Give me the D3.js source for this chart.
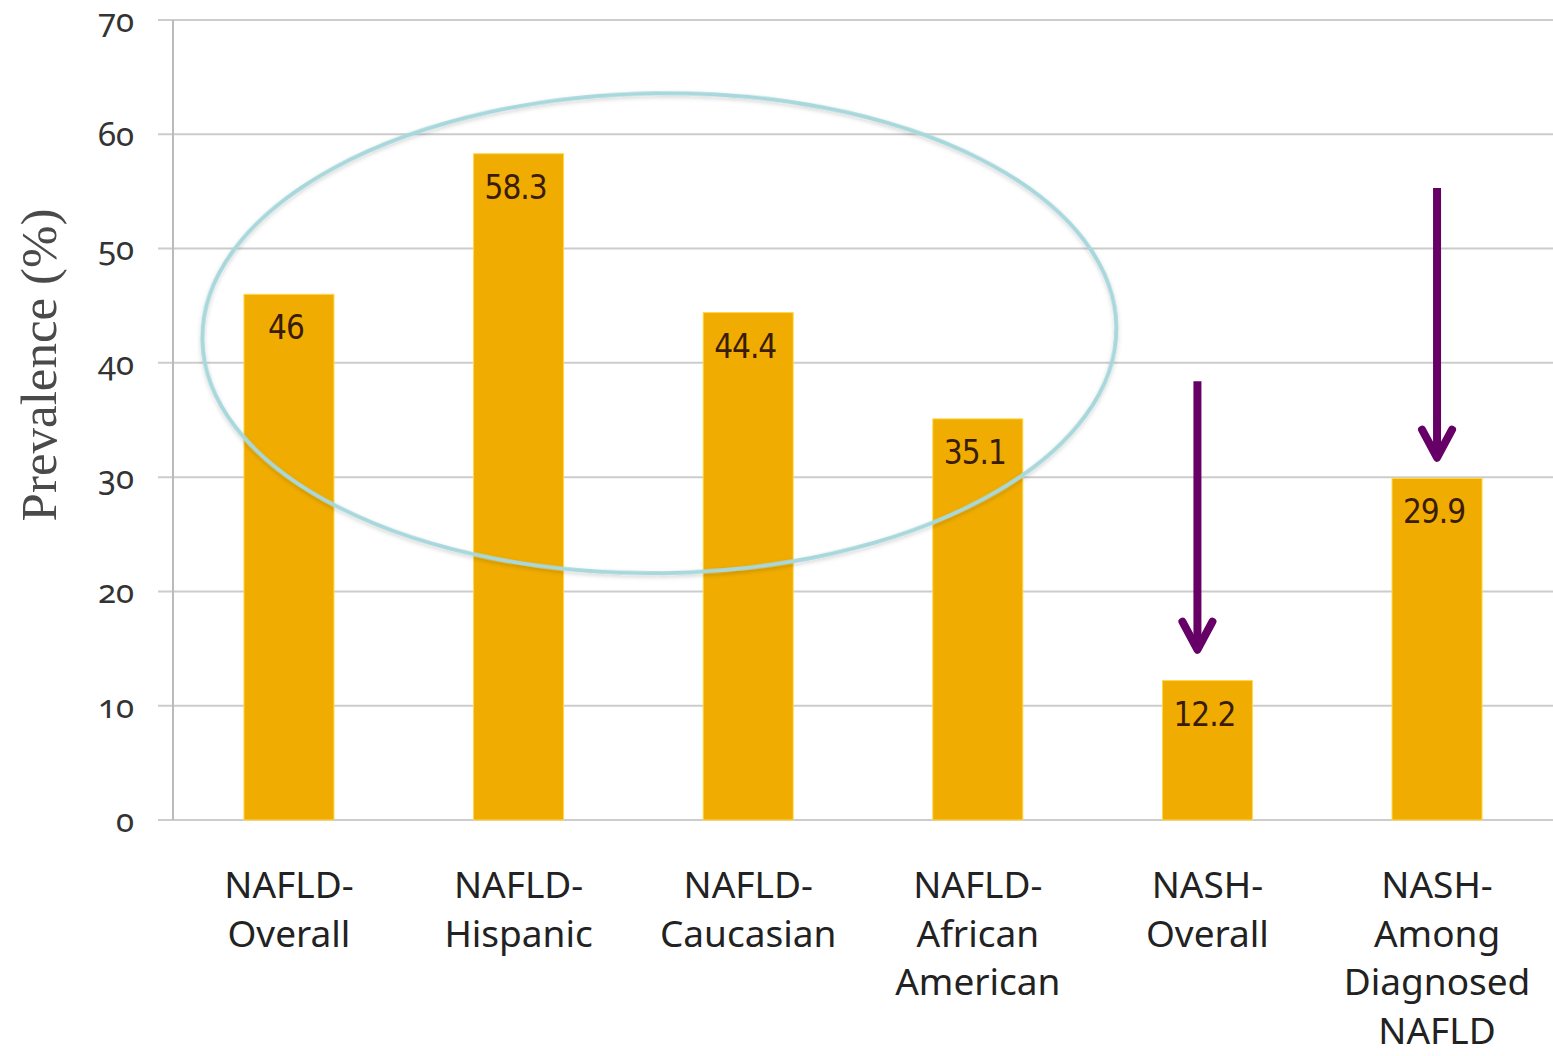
<!DOCTYPE html>
<html>
<head>
<meta charset="utf-8">
<script src="https://cdn.jsdelivr.net/npm/d3@7"></script>
<style>
  html, body { margin: 0; padding: 0; background: #ffffff; }
  svg { display: block; }
</style>
</head>
<body>
<script>
// Prevalence of NAFLD / NASH by group
const categories = [
  ["NAFLD-", "Overall"],
  ["NAFLD-", "Hispanic"],
  ["NAFLD-", "Caucasian"],
  ["NAFLD-", "African", "American"],
  ["NASH-", "Overall"],
  ["NASH-", "Among", "Diagnosed", "NAFLD"]
];
const values = [46, 58.3, 44.4, 35.1, 12.2, 29.9];
const valueLabels = ["46", "58.3", "44.4", "35.1", "12.2", "29.9"];
const yTicks = [0, 10, 20, 30, 40, 50, 60, 70];
const yTitle = "Prevalence (%)";

// Arrows pointing down at the NASH bars: [category index, start value, tip value]
const arrows = [
  [4, 38.4, 14.9],
  [5, 55.3, 31.7]
];
// horizontal nudge of each arrow from its bar centre, px
const arrowShift = [-10, 0];

const W = 1553, H = 1056;
const svg = d3.select("body").append("svg").attr("width", W).attr("height", H);

const defs = svg.append("defs");
const sh = defs.append("filter").attr("id", "soft").attr("x", "-10%").attr("y", "-10%").attr("width", "120%").attr("height", "120%");
sh.append("feDropShadow").attr("dx", 0).attr("dy", 2).attr("stdDeviation", 2)
  .attr("flood-color", "#000").attr("flood-opacity", 0.18);

const ids = categories.map((c, i) => i);
const x = d3.scaleBand().domain(ids).range([173, 1553]).paddingInner(0.608).paddingOuter(0.309);
const y = d3.scaleLinear().domain([0, 70]).range([820, 20]);

// gridlines + tick marks
svg.append("g").selectAll("line").data(yTicks).join("line")
  .attr("x1", 158).attr("x2", W)
  .attr("y1", d => y(d)).attr("y2", d => y(d))
  .attr("stroke", "#cccccc").attr("stroke-width", 2);

// y axis line
svg.append("line").attr("x1", 173).attr("x2", 173).attr("y1", y(70)).attr("y2", y(0))
  .attr("stroke", "#bbbbbb").attr("stroke-width", 2);

// y tick labels
svg.append("g").selectAll("text").data(yTicks).join("text")
  .attr("x", 134).attr("y", d => y(d)).attr("dy", "0.36em")
  .attr("text-anchor", "end")
  .attr("font-family", "'Noto Sans', 'Open Sans', sans-serif")
  .attr("font-size", 33).attr("fill", "#333")
  .style("font-variant-numeric", "oldstyle-nums")
  .text(d => d);

// y axis title
svg.append("text")
  .attr("transform", `translate(56, ${365}) rotate(-90)`)
  .attr("text-anchor", "middle")
  .attr("font-family", "'Liberation Serif', 'DejaVu Serif', serif")
  .attr("font-size", 51).attr("fill", "#4a4a4a")
  .text(yTitle);

// bars
svg.append("g").selectAll("rect").data(values).join("rect")
  .attr("x", (d, i) => x(i)).attr("width", x.bandwidth())
  .attr("y", d => y(d)).attr("height", d => y(0) - y(d))
  .attr("fill", "#f0ac00")
  .attr("stroke", "#ffd84a").attr("stroke-width", 1);

// value labels inside bar tops
svg.append("g").selectAll("text").data(values).join("text")
  .attr("x", (d, i) => x(i) + x.bandwidth() / 2 - 3)
  .attr("y", d => y(d) + 45)
  .attr("text-anchor", "middle")
  .attr("font-family", "'DejaVu Sans Condensed', 'Liberation Sans Narrow', sans-serif")
  .attr("font-size", 33).attr("fill", "#3a1c0a")
  .attr("letter-spacing", -1)
  .text((d, i) => valueLabels[i]);

// category labels
const cl = svg.append("g").selectAll("text").data(categories).join("text")
  .attr("text-anchor", "middle")
  .attr("font-family", "'Noto Sans', 'Open Sans', sans-serif")
  .attr("font-size", 37).attr("fill", "#222");
cl.each(function (lines, i) {
  const t = d3.select(this);
  const cx = x(i) + x.bandwidth() / 2;
  lines.forEach((s, k) => {
    t.append("tspan").attr("x", cx).attr("y", 898 + k * 48.7).text(s);
  });
});

// highlight ellipse around the NAFLD bars
const ex = (x(1) + x(2) + x.bandwidth()) / 2 + 26;
svg.append("ellipse")
  .attr("cx", ex).attr("cy", y(42.6))
  .attr("rx", 457).attr("ry", y(0) - y(21))
  .attr("transform", `rotate(-0.8, ${ex}, ${y(42.6)})`)
  .attr("fill", "none").attr("stroke", "#a9d8dc").attr("stroke-width", 4)
  .attr("filter", "url(#soft)");

// arrows
const ag = svg.append("g").attr("stroke", "#660066").attr("stroke-width", 8)
  .attr("fill", "none").attr("stroke-linecap", "round").attr("stroke-linejoin", "round");
arrows.forEach(([i, v0, v1], k) => {
  const ax = x(i) + x.bandwidth() / 2 + arrowShift[k];
  ag.append("line").attr("x1", ax).attr("x2", ax).attr("y1", y(v0)).attr("y2", y(v1) - 3)
    .attr("stroke-linecap", "butt");
  ag.append("path").attr("d", `M${ax - 15},${y(v1) - 28} L${ax},${y(v1)} L${ax + 15},${y(v1) - 28}`);
});
</script>
</body>
</html>
